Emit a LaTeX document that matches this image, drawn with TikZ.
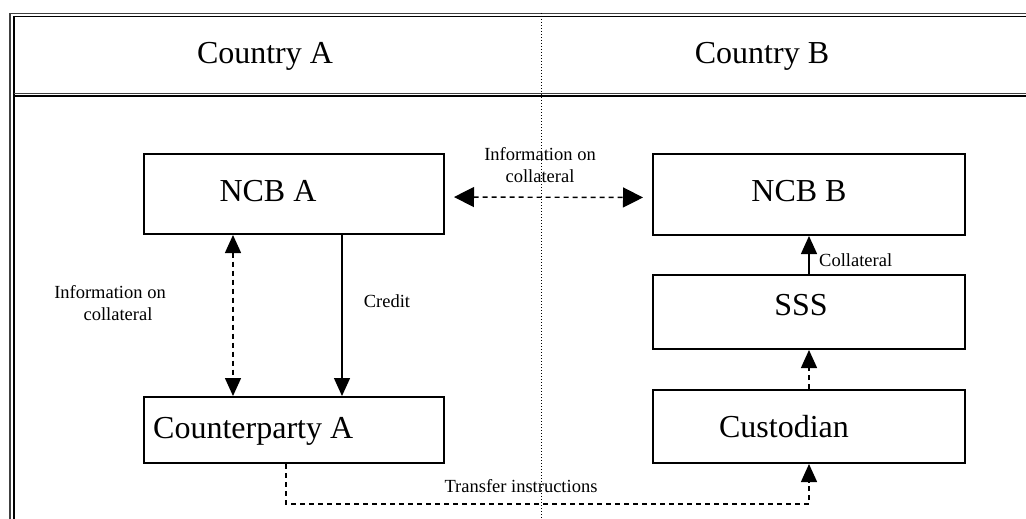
\documentclass[tikz,border=0pt]{standalone}
\usepackage{fontspec}
\setmainfont{Liberation Serif}
\usetikzlibrary{arrows.meta}
\begin{document}
\begin{tikzpicture}[x=1pt,y=-1pt,
  box/.style={draw, line width=2pt, inner sep=0pt, anchor=north west},
  big/.style={font=\fontsize{32}{36}\selectfont, inner sep=0pt, anchor=base},
  small/.style={font=\fontsize{18.5}{22}\selectfont, inner sep=0pt, anchor=base},
  conn/.style={line width=1.4pt},
  dsh/.style={conn, dash pattern=on 5pt off 4pt},
  tipbig/.tip={Triangle[length=20pt,width=20pt]},
  tipv/.tip={Triangle[length=18pt,width=16pt]},
  frameout/.style={line width=1.3pt, black!75},
  framein/.style={line width=1.8pt, black}]
\fill[white] (0,0) rectangle (1026,519);
\useasboundingbox (0,0) rectangle (1026,519);
% frame
\draw[frameout] (10,519) -- (10,13.8) -- (1026,13.8);
\draw[framein] (13.7,519) -- (13.7,16.5) -- (1026,16.5);
\draw[frameout] (13.7,93.3) -- (1026,93.3);
\draw[framein] (13.7,96) -- (1026,96);
% divider
\draw[line width=0.8pt, dash pattern=on 1pt off 2pt] (541,13) -- (541,519);
% headers
\node[big] (ca) at (265,64) {Country A};
\node[big] (cb) at (762,64) {Country B};
% boxes
\node[box, minimum width=300pt, minimum height=80pt] (ncba) at (143,153) {};
\node[box, minimum width=312pt, minimum height=81pt] (ncbb) at (652,153) {};
\node[box, minimum width=312pt, minimum height=74pt] (sss) at (652,274) {};
\node[box, minimum width=312pt, minimum height=73pt] (cust) at (652,389) {};
\node[box, minimum width=300pt, minimum height=66pt] (cpa) at (143,396) {};
% box texts
\node[big] (tncba) at (268,201) {NCB A};
\node[big] (tncbb) at (799,201) {NCB B};
\node[big] (tsss) at (801,315) {SSS};
\node[big] (tcust) at (784,437) {Custodian};
\node[big, anchor=base west] (tcpa) at (153,438) {Counterparty A};
% connectors
\draw[dsh, tipbig-tipbig, shorten <=9pt, shorten >=9pt]
  ([yshift=-3pt]ncba.east) -- ([yshift=-3pt]ncbb.west);
\draw[dsh, tipv-tipv] ([xshift=90pt]ncba.south west) -- ([xshift=90pt]cpa.north west);
\draw[conn, -tipv] ([xshift=199pt]ncba.south west) -- ([xshift=199pt]cpa.north west);
\draw[conn, -tipv] (sss.north) -- (ncbb.south);
\draw[dsh, -tipv] (cust.north) -- (sss.south);
\draw[dsh, -tipv] ([xshift=143pt]cpa.south west) -- ++(0,40) -| (cust.south);
% labels
\node[small] (l1) at (540,160) {Information on};
\node[small] (l2) at (540,182) {collateral};
\node[small] (l3) at (110,298) {Information on};
\node[small] (l4) at (118,320) {collateral};
\node[small] (l5) at (387,307) {Credit};
\node[small, anchor=base west] (l6) at (819,266) {Collateral};
\node[small] (l7) at (521,492) {Transfer instructions};
\end{tikzpicture}
\end{document}
